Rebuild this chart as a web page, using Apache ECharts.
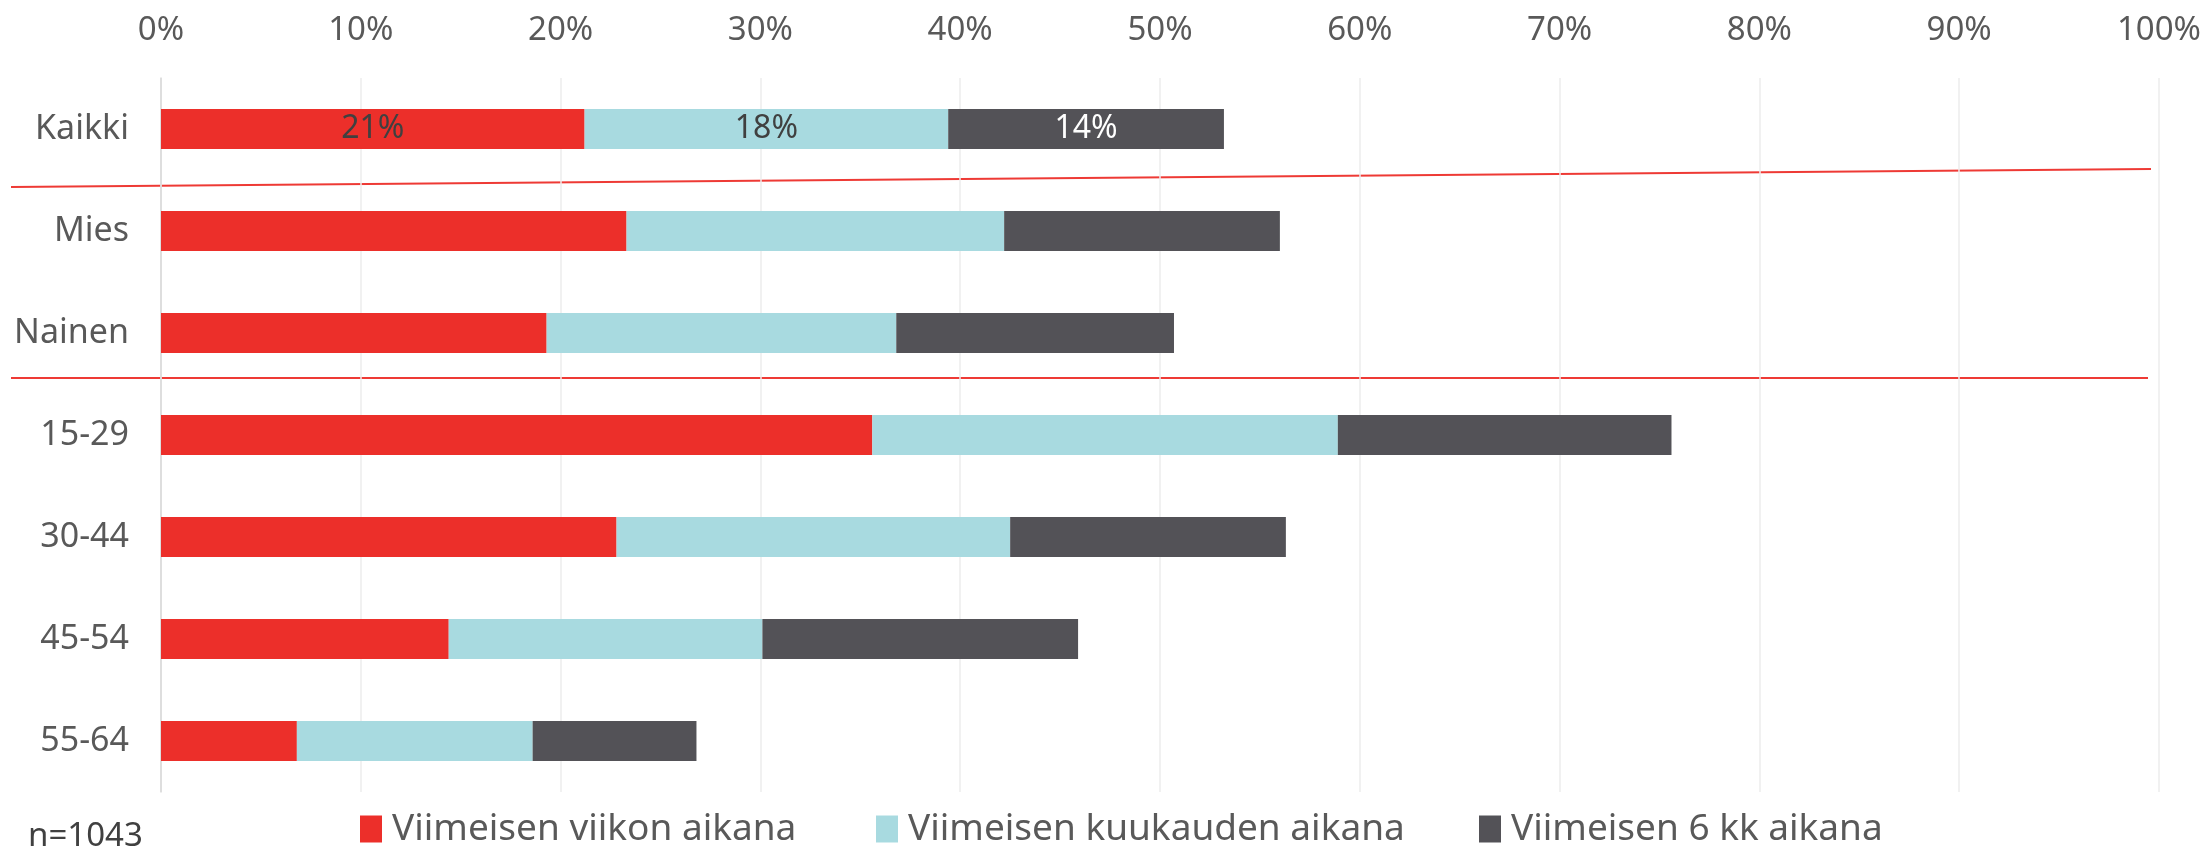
<!DOCTYPE html>
<html>
<head>
<meta charset="utf-8">
<script src="https://cdn.jsdelivr.net/npm/echarts@6/dist/echarts.min.js"></script>
<style>
html,body{margin:0;padding:0;background:#fff;}
#chart{width:2207px;height:847px;}
</style>
</head>
<body>
<div id="chart"></div>
<script>
const categories = ['Kaikki', 'Mies', 'Nainen', '15-29', '30-44', '45-54', '55-64'];
const seriesNames = ['Viimeisen viikon aikana', 'Viimeisen kuukauden aikana', 'Viimeisen 6 kk aikana'];
const weekValues = [21.2, 23.3, 19.3, 35.6, 22.8, 14.4, 6.8];
const monthValues = [18.2, 18.9, 17.5, 23.3, 19.7, 15.7, 11.8];
const sixMonthValues = [13.8, 13.8, 13.9, 16.7, 13.8, 15.8, 8.2];
const sampleNote = 'n=1043';

const colors = ['#ec2f2a', '#a8dae0', '#535257'];
const labelColors = ['#404040', '#404040', '#ffffff'];
const FONT = '"Noto Sans", sans-serif';
const TXT = '#595959';

const chart = echarts.init(document.getElementById('chart'));

function mkSeries(idx, values) {
  return {
    name: seriesNames[idx],
    type: 'bar',
    stack: 'total',
    barWidth: 40,
    itemStyle: { color: colors[idx] },
    emphasis: { disabled: true },
    data: values.map((v, i) => ({
      value: v,
      label: {
        show: i === 0,
        position: 'inside',
        formatter: p => Math.round(p.value) + '%',
        color: labelColors[idx],
        fontFamily: FONT,
        fontSize: 32
      }
    }))
  };
}

function legendAt(idx, left) {
  return {
    data: [seriesNames[idx]],
    left: left,
    top: 804,
    icon: 'rect',
    itemWidth: 22,
    itemHeight: 27,
    textStyle: { fontFamily: FONT, fontSize: 37, color: TXT, padding: [0, 0, 0, 5], lineHeight: 40 },
    selectedMode: false
  };
}

chart.setOption({
  animation: false,
  textStyle: { fontFamily: FONT },
  grid: { left: 161, right: 48, top: 78, bottom: 55, containLabel: false },
  xAxis: {
    type: 'value',
    position: 'top',
    min: 0,
    max: 100,
    interval: 10,
    axisLine: { show: false },
    axisTick: { show: false },
    axisLabel: { formatter: '{value}%', fontSize: 33, color: TXT, fontFamily: FONT, margin: 31 },
    splitLine: { lineStyle: { color: '#ececec', width: 1.5 } }
  },
  yAxis: {
    type: 'category',
    data: categories,
    inverse: true,
    axisLine: { show: true, lineStyle: { color: '#d9d9d9', width: 1.5 } },
    axisTick: { show: false },
    axisLabel: { fontSize: 34, color: TXT, fontFamily: FONT, margin: 32 }
  },
  legend: [legendAt(0, 355), legendAt(1, 871), legendAt(2, 1474)],
  title: {
    text: sampleNote,
    left: 23,
    top: 815,
    textStyle: { fontFamily: FONT, fontSize: 33, fontWeight: 'normal', color: '#404040' }
  },
  graphic: [
    { type: 'line', shape: { x1: 11, y1: 187, x2: 2151, y2: 169 }, style: { stroke: '#ee3a35', lineWidth: 2 }, silent: true },
    { type: 'line', shape: { x1: 11, y1: 378, x2: 2148, y2: 378 }, style: { stroke: '#ee3a35', lineWidth: 2 }, silent: true }
  ],
  series: [mkSeries(0, weekValues), mkSeries(1, monthValues), mkSeries(2, sixMonthValues)]
});
</script>
</body>
</html>
